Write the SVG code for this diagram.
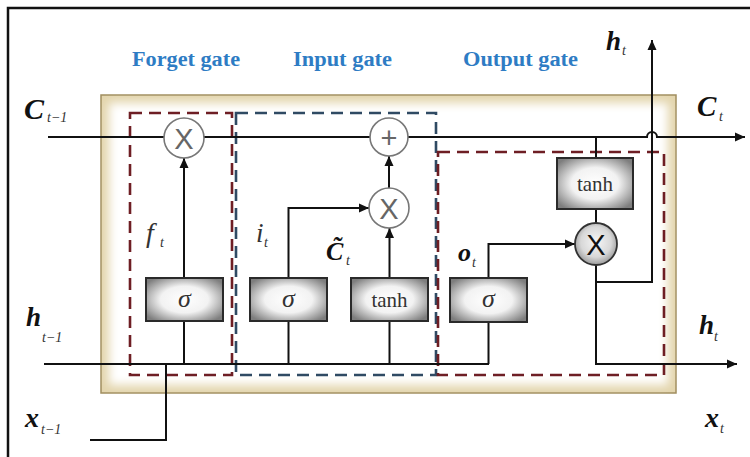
<svg xmlns="http://www.w3.org/2000/svg" width="750" height="457" viewBox="0 0 750 457">
<defs>
<style>
.ln{fill:none;stroke:#111;stroke-width:2}
.dr{fill:none;stroke:#6e1e24;stroke-width:2.6;stroke-dasharray:12 7}
.db{fill:none;stroke:#2f4a63;stroke-width:2.6;stroke-dasharray:12 7}
.box{fill:url(#boxg);stroke:#2a2a2a;stroke-width:2}
.op{fill:#fff;stroke:#777;stroke-width:1.6}
.opg{fill:url(#circg);stroke:#333;stroke-width:1.8}
.gl{font-family:"Liberation Sans",Arial,sans-serif;font-size:29px;fill:#666;text-anchor:middle}
.gt{font-family:"Liberation Serif","Times New Roman",serif;font-weight:bold;font-size:20px;fill:#2e7cc4}
.v{font-family:"Liberation Serif","Times New Roman",serif;font-weight:bold;font-style:italic;fill:#111}
.s{font-family:"Liberation Serif","Times New Roman",serif;font-style:italic;fill:#333;font-size:14px}
.fn{font-family:"Liberation Serif","Times New Roman",serif;fill:#333;text-anchor:middle}
</style>
<radialGradient id="boxg" cx="50%" cy="50%" r="62%">
<stop offset="0" stop-color="#ffffff"/>
<stop offset="0.5" stop-color="#f2f2f2"/>
<stop offset="1" stop-color="#7e7e7e"/>
</radialGradient>
<radialGradient id="circg" cx="50%" cy="45%" r="60%">
<stop offset="0" stop-color="#f6f6f6"/>
<stop offset="0.6" stop-color="#d8d8d8"/>
<stop offset="1" stop-color="#8a8a8a"/>
</radialGradient>
<filter id="blur" x="-5%" y="-5%" width="110%" height="110%">
<feGaussianBlur stdDeviation="5"/>
</filter>
<marker id="ar" viewBox="0 0 10 10" refX="10" refY="5" markerWidth="10" markerHeight="10" markerUnits="userSpaceOnUse" orient="auto">
<path d="M0,0.5 L10,5 L0,9.5 Z" fill="#111"/>
</marker>
</defs>
<rect width="750" height="457" fill="#fff"/>
<path d="M8,457 V8 H750" fill="none" stroke="#111" stroke-width="2.5"/>

<g id="cell">
<rect x="101" y="95" width="575" height="298" fill="#e3d5ad" stroke="#a08d5e" stroke-width="1.5"/>
<rect x="109" y="103" width="559" height="282" fill="#fff" filter="url(#blur)"/>
</g>

<g id="labels">
<text class="gt" x="132" y="66" textLength="108" lengthAdjust="spacingAndGlyphs">Forget gate</text>
<text class="gt" x="293" y="66" textLength="99" lengthAdjust="spacingAndGlyphs">Input gate</text>
<text class="gt" x="463" y="66" textLength="115" lengthAdjust="spacingAndGlyphs">Output gate</text>
</g>

<g id="gates">
<rect id="forget-gate" class="dr" x="130" y="113" width="102" height="262"/>
<rect id="input-gate" class="db" x="236" y="113" width="200" height="262"/>
<rect id="output-gate" class="dr" x="438" y="152" width="226" height="223"/>
</g>

<g id="connectors">
<path class="ln" d="M48,137 H647 a5,5 0 0 1 10,0 H745" marker-end="url(#ar)"/>
<path class="ln" d="M44,364 H489"/>
<path class="ln" d="M90,440 H166 V364"/>
<path class="ln" d="M184,364 V321"/>
<path class="ln" d="M184,278 V158" marker-end="url(#ar)"/>
<path class="ln" d="M288.5,364 V321"/>
<path class="ln" d="M288.5,278 V208 H369" marker-end="url(#ar)"/>
<path class="ln" d="M389.5,364 V321"/>
<path class="ln" d="M389.5,278 V228" marker-end="url(#ar)"/>
<path class="ln" d="M389,189 V156" marker-end="url(#ar)"/>
<path class="ln" d="M488.5,364 V322"/>
<path class="ln" d="M488.5,278 V244 H575" marker-end="url(#ar)"/>
<path class="ln" d="M596,137 V158"/>
<path class="ln" d="M596,209 V223"/>
<path class="ln" d="M596,265 V364 H737" marker-end="url(#ar)"/>
<path class="ln" d="M596,282 H652 V40" marker-end="url(#ar)"/>
</g>

<g id="forget-mul">
<circle class="op" cx="184" cy="138" r="20"/>
<text class="gl" x="184" y="148.5">X</text>
</g>
<g id="input-add">
<circle class="op" cx="389" cy="137" r="19"/>
<text class="gl" x="389" y="147.5">+</text>
</g>
<g id="input-mul">
<circle class="op" cx="389" cy="208" r="20"/>
<text class="gl" x="389" y="218.5">X</text>
</g>
<g id="output-mul">
<circle class="opg" cx="596" cy="244" r="21"/>
<text class="gl" x="596" y="254.5" style="fill:#111">X</text>
</g>

<g id="forget-sigma">
<rect class="box" x="146" y="278" width="77" height="43"/>
<text class="fn" x="184.5" y="307" font-size="26" font-style="italic">σ</text>
</g>
<g id="input-sigma">
<rect class="box" x="250" y="278" width="77" height="43"/>
<text class="fn" x="288.5" y="307" font-size="26" font-style="italic">σ</text>
</g>
<g id="input-tanh">
<rect class="box" x="351" y="278" width="77" height="43"/>
<text class="fn" x="389.5" y="307" font-size="21">tanh</text>
</g>
<g id="output-sigma">
<rect class="box" x="450" y="278" width="77" height="44"/>
<text class="fn" x="488.5" y="307" font-size="26" font-style="italic">σ</text>
</g>
<g id="output-tanh">
<rect class="box" x="557" y="158" width="76" height="51"/>
<text class="fn" x="595" y="191" font-size="21">tanh</text>
</g>

<g id="symbols">
<text class="v" x="24" y="119" font-size="30">C</text>
<text class="s" x="47" y="122">t−1</text>
<text class="v" x="697" y="116" font-size="29">C</text>
<text class="s" x="719" y="121">t</text>
<text class="v" x="606" y="50" font-size="27">h</text>
<text class="s" x="622" y="55">t</text>
<text class="v" x="26" y="326" font-size="27">h</text>
<text class="s" x="42" y="342">t−1</text>
<text class="v" x="699" y="334" font-size="27">h</text>
<text class="s" x="714" y="341">t</text>
<text class="v" x="25" y="427" font-size="28">x</text>
<text class="s" x="41" y="434">t−1</text>
<text class="v" x="705" y="427" font-size="28">x</text>
<text class="s" x="720" y="433">t</text>
<text class="v" x="146" y="242" font-size="28" style="font-weight:normal;fill:#333">f</text>
<text class="s" x="160" y="247">t</text>
<text class="v" x="256" y="242" font-size="27" style="font-weight:normal;fill:#333">i</text>
<text class="s" x="264" y="247">t</text>
<text class="v" x="326" y="260" font-size="26">C&#x303;</text>
<text class="s" x="346" y="265">t</text>
<text class="v" x="458" y="261" font-size="26">o</text>
<text class="s" x="472" y="267">t</text>
</g>
</svg>
